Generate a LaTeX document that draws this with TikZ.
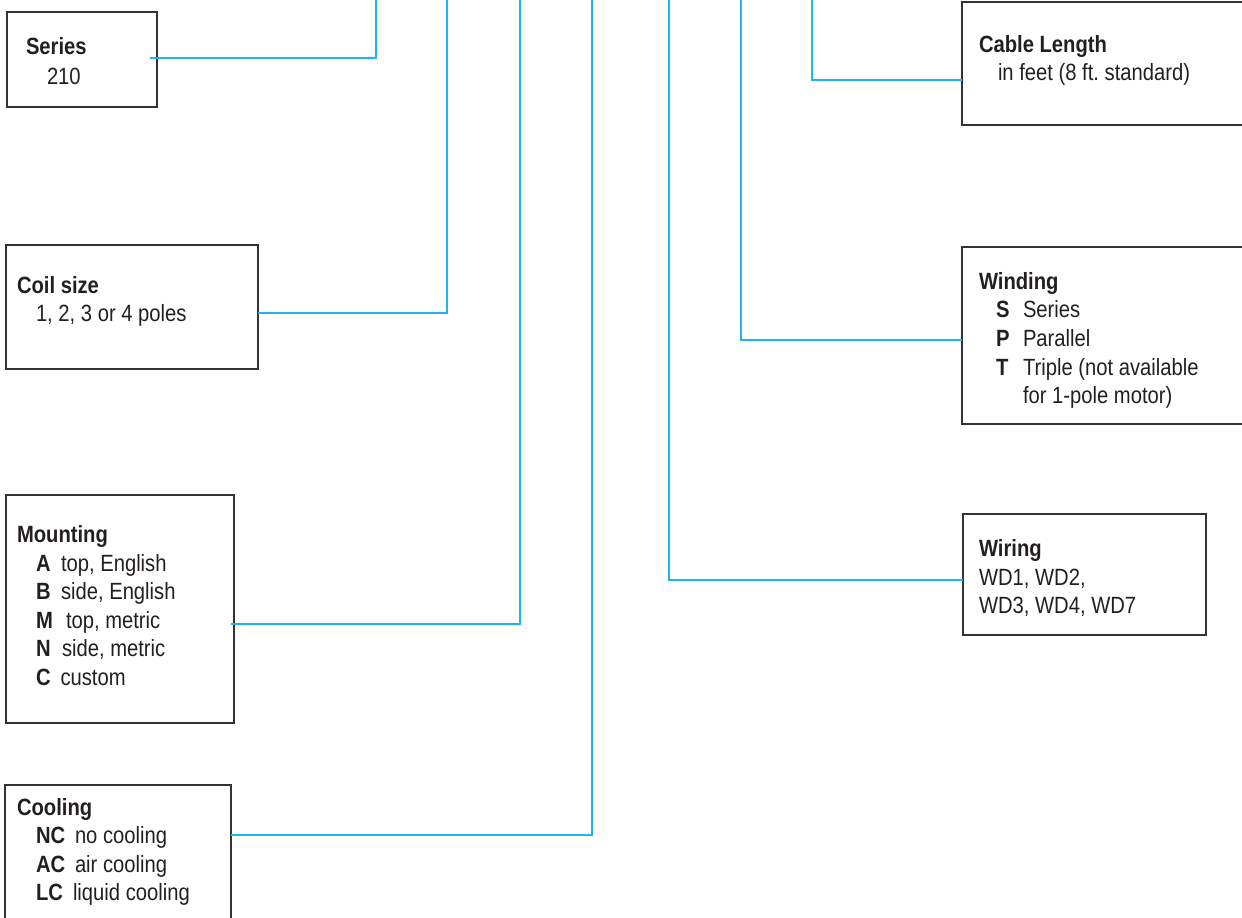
\documentclass[tikz,border=0pt]{standalone}
\usepackage{fontspec}
\setmainfont[FakeStretch=0.86]{Liberation Sans}
\frenchspacing
\definecolor{conncol}{HTML}{1FB4EC}
\definecolor{boxcol}{HTML}{333333}
\definecolor{txtcol}{HTML}{231F20}
\newcommand{\codebox}[2]{\makebox[#1][l]{\bfseries #2}}
\tikzset{
  box/.style={draw=boxcol, line width=1.4pt, inner sep=0pt, outer sep=0pt, anchor=north west},
  conn/.style={draw=conncol, line width=1.5pt},
  txt/.style={anchor=base west, inner sep=0pt, outer sep=0pt, text=txtcol, font=\fontsize{23.5}{28}\selectfont\frenchspacing},
  hd/.style={txt, font=\fontsize{23.5}{28}\selectfont\bfseries},
}
\begin{document}
\begin{tikzpicture}[x=1pt,y=-1pt]
\useasboundingbox (0,0) rectangle (1242,918);
% boxes
\node[box, minimum width=150pt, minimum height=95pt]  (series)  at (7,12) {};
\node[box, minimum width=252pt, minimum height=124pt] (coil)    at (6,245) {};
\node[box, minimum width=228pt, minimum height=228pt] (mount)   at (6,495) {};
\node[box, minimum width=226pt, minimum height=160pt] (cool)    at (5,785) {};
\node[box, minimum width=300pt, minimum height=123pt] (cable)   at (962,2) {};
\node[box, minimum width=300pt, minimum height=177pt] (wind)    at (962,247) {};
\node[box, minimum width=243pt, minimum height=121pt] (wiring)  at (963,514) {};
% texts
\node[hd]  (seriesH) at (26,54.5) {Series};
\node[txt] (seriesA) at (47,84.5) {210};
\node[hd]  (coilH) at (17,293) {Coil size};
\node[txt] (coilA) at (36,321) {1, 2, 3 or 4 poles};
\node[hd]  (mountH) at (17,542.5) {Mounting};
\node[txt] (mountA) at (36,571) {\codebox{25pt}{A}top, English};
\node[txt] (mountB) at (36,599.5) {\codebox{25pt}{B}side, English};
\node[txt] (mountM) at (36,628) {\codebox{30pt}{M}top, metric};
\node[txt] (mountN) at (36,656.5) {\codebox{26pt}{N}side, metric};
\node[txt] (mountC) at (36,685) {\codebox{24.5pt}{C}custom};
\node[hd]  (coolH) at (17,815) {Cooling};
\node[txt] (coolN) at (36,843.5) {\codebox{39pt}{NC}no cooling};
\node[txt] (coolA) at (36,872) {\codebox{39pt}{AC}air cooling};
\node[txt] (coolL) at (36,900.5) {\codebox{37pt}{LC}liquid cooling};
\node[hd]  (cableH) at (979,52) {Cable Length};
\node[txt] (cableA) at (998,80.5) {in feet (8 ft. standard)};
\node[hd]  (windH) at (979,289) {Winding};
\node[txt] (windS) at (996,317.5) {\codebox{27pt}{S}Series};
\node[txt] (windP) at (996,346) {\codebox{27pt}{P}Parallel};
\node[txt] (windT) at (996,375) {\codebox{27pt}{T}Triple (not available};
\node[txt] (windT2) at (1023,403.5) {for 1-pole motor)};
\node[hd]  (wiringH) at (979,556.5) {Wiring};
\node[txt] (wiringA) at (979,585) {WD1, WD2,};
\node[txt] (wiringB) at (979,613.5) {WD3, WD4, WD7};
% connector top ends
\coordinate (tSeries) at (376,0);
\coordinate (tCoil)   at (447,0);
\coordinate (tMount)  at (520,0);
\coordinate (tCool)   at (592,0);
\coordinate (tWiring) at (669,0);
\coordinate (tWind)   at (741,0);
\coordinate (tCable)  at (812,0);
% connectors
\draw[conn] ([xshift=-7pt]series.east |- 0,58) -| (tSeries);
\draw[conn] (coil.east |- 0,313) -| (tCoil);
\draw[conn] ([xshift=-3pt]mount.east |- 0,624) -| (tMount);
\draw[conn] (cool.east |- 0,835) -| (tCool);
\draw[conn] (wiring.west |- 0,580) -| (tWiring);
\draw[conn] (wind.west |- 0,340) -| (tWind);
\draw[conn] (cable.west |- 0,80) -| (tCable);
\end{tikzpicture}
\end{document}
